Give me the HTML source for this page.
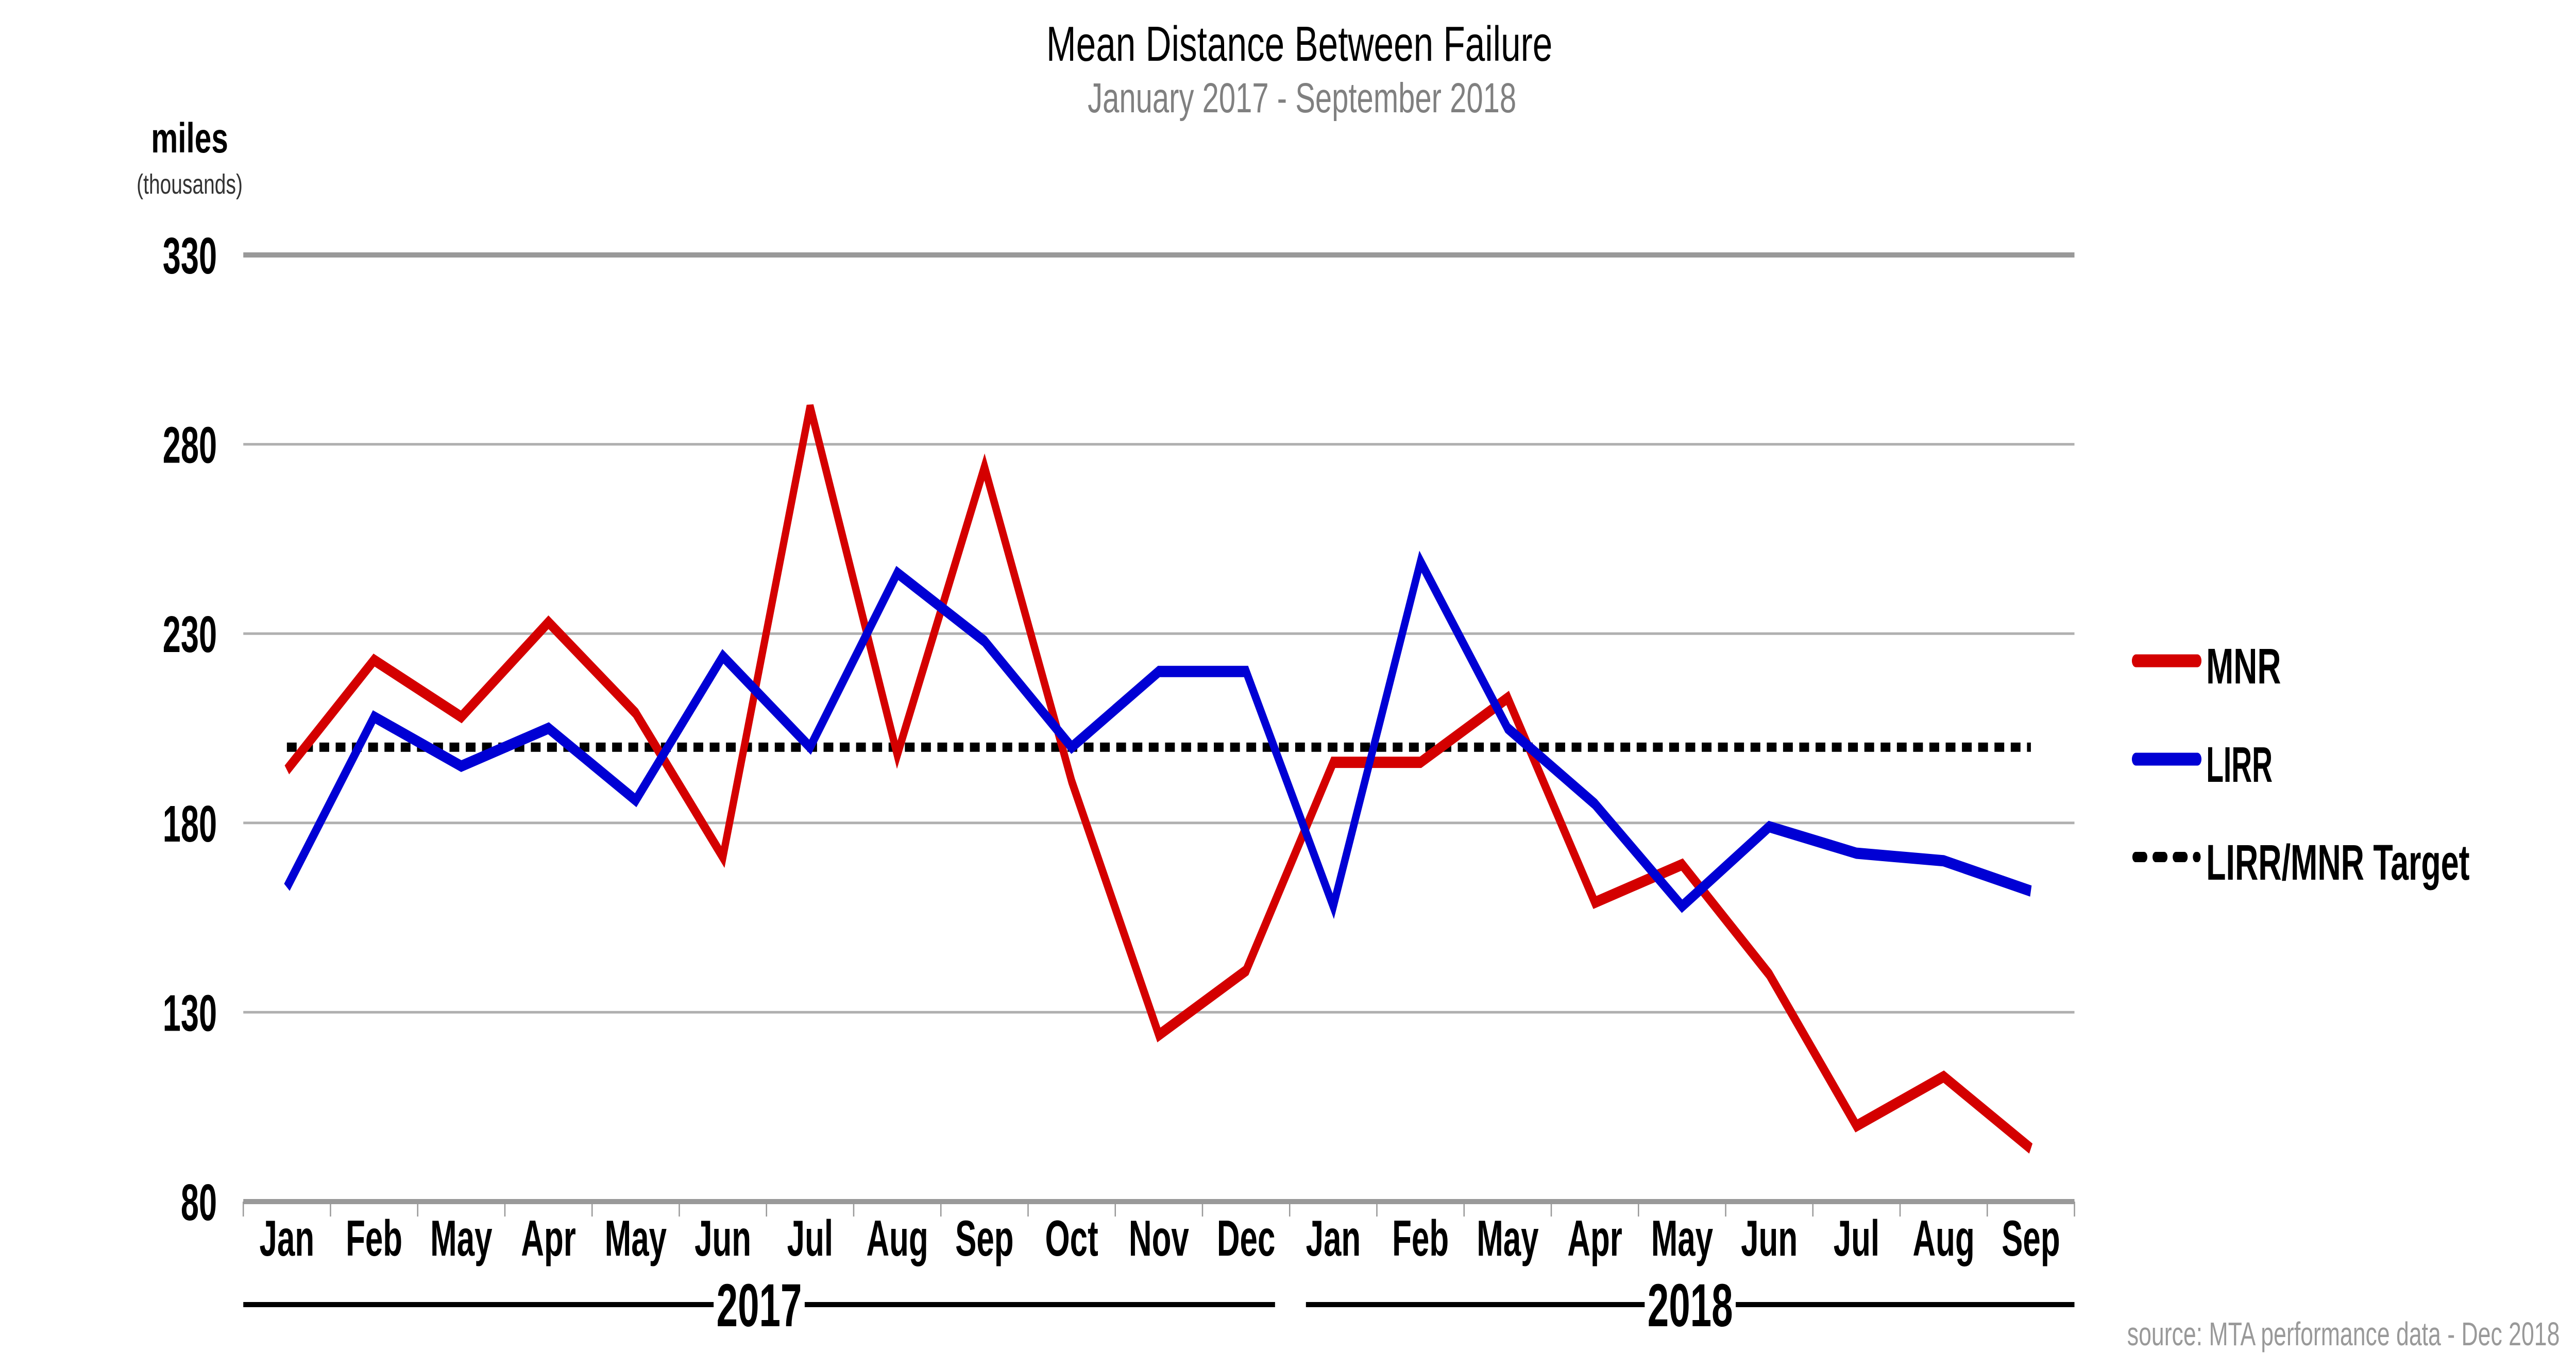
<!DOCTYPE html>
<html><head><meta charset="utf-8"><meta name="viewport" content="width=7920, initial-scale=1"><style>html,body{margin:0;padding:0;background:#fff;width:100vw;height:100vh;overflow:hidden}svg{display:block;width:100vw;height:100vh}text{font-family:"Liberation Sans",sans-serif}</style></head>
<body>
<svg id="chart" viewBox="0 0 7920 2660" preserveAspectRatio="none" xmlns="http://www.w3.org/2000/svg">
<text x="3995" y="118" text-anchor="middle" font-size="96" textLength="1556" lengthAdjust="spacingAndGlyphs" fill="#000">Mean Distance Between Failure</text>
<text x="4003" y="218" text-anchor="middle" font-size="82" textLength="1318" lengthAdjust="spacingAndGlyphs" fill="#808080">January 2017 - September 2018</text>
<text x="583" y="296" text-anchor="middle" font-size="82" font-weight="bold" textLength="237" lengthAdjust="spacingAndGlyphs" fill="#000">miles</text>
<text x="583" y="376" text-anchor="middle" font-size="54" textLength="326" lengthAdjust="spacingAndGlyphs" fill="#333">(thousands)</text>
<g id="grid"></g><g id="series"></g>
<g>
<line x1="6567" y1="1283" x2="6756" y2="1283" stroke="#d40000" stroke-width="25" stroke-linecap="round"/>
<text x="6783" y="1327" font-size="97" font-weight="bold" textLength="230" lengthAdjust="spacingAndGlyphs">MNR</text>
<line x1="6567" y1="1474" x2="6756" y2="1474" stroke="#0000d4" stroke-width="25" stroke-linecap="round"/>
<text x="6783" y="1518" font-size="97" font-weight="bold" textLength="204" lengthAdjust="spacingAndGlyphs">LIRR</text>
<line x1="6566" y1="1664" x2="6756" y2="1664" stroke="#000" stroke-width="20" stroke-linecap="round" stroke-dasharray="26 36"/>
<text x="6783" y="1708" font-size="97" font-weight="bold" textLength="810" lengthAdjust="spacingAndGlyphs">LIRR/MNR Target</text>
</g>
<text x="7870" y="2612" text-anchor="end" font-size="64" textLength="1330" lengthAdjust="spacingAndGlyphs" fill="#999">source: MTA performance data - Dec 2018</text>
</svg>
<script>
const categories = ["Jan","Feb","May","Apr","May","Jun","Jul","Aug","Sep","Oct","Nov","Dec","Jan","Feb","May","Apr","May","Jun","Jul","Aug","Sep"];
const mnrValues = [194,223,208,233,209,171,290,198,274,191,124,141,196,196,213,159,169,140,100,113,94];
const lirrValues = [163,208,195,205,186,224,200,246,228,200,220,220,158,249,205,185,158,179,172,170,162];
const targetValue = 200;
const yTicks = [80,130,180,230,280,330];
const years = [{label:"2017",start:0,end:12},{label:"2018",start:12,end:21}];

const NS="http://www.w3.org/2000/svg";
const L=748,R=6378,T=495,B=2333,YMIN=80,YMAX=330;
const bw=(R-L)/categories.length;
const xC=i=>L+bw*(i+0.5);
const xE=i=>L+bw*i;
const y=v=>B-(v-YMIN)/(YMAX-YMIN)*(B-T);
function mk(tag,attrs,parent){const e=document.createElementNS(NS,tag);for(const k in attrs)e.setAttribute(k,attrs[k]);parent.appendChild(e);return e;}
const grid=document.getElementById('grid'),ser=document.getElementById('series');
yTicks.forEach((v,i)=>{
  const top=v===YMAX, bot=v===YMIN;
  const ln=mk('line',{x1:L,x2:R,y1:y(v),y2:y(v),stroke:(top||bot)?'#999':'#b0b0b0','stroke-width':(top||bot)?10:5},grid);
  
  
  const t=mk('text',{x:667,y:y(v)+36,'text-anchor':'end','font-size':100,'font-weight':'bold'},grid);
  t.textContent=v;
  
  
});
for(let i=0;i<=categories.length;i++){
  const tk=mk('line',{x1:xE(i),x2:xE(i),y1:B,y2:2362,stroke:'#999','stroke-width':4},grid);
  
  
}
categories.forEach((c,i)=>{
  const t=mk('text',{x:xC(i),y:2438,'text-anchor':'middle','font-size':98,'font-weight':'bold'},grid);
  t.textContent=c;
  
  
});
years.forEach(yr=>{
  const x1=xE(yr.start)+(yr.start?50:0), x2=xE(yr.end)-(yr.end<categories.length?45:0), cx=(x1+x2)/2;
  const a=mk('line',{x1:x1,x2:cx-140,y1:2533,y2:2533,stroke:'#000','stroke-width':10},grid);
  
  
  const b=mk('line',{x1:cx+140,x2:x2,y1:2533,y2:2533,stroke:'#000','stroke-width':10},grid);
  
  
  const t=mk('text',{x:cx,y:2575,'text-anchor':'middle','font-size':118,'font-weight':'bold'},grid);
  t.textContent=yr.label;
  
  
});
const tg=mk('line',{x1:xC(0),x2:xC(categories.length-1),y1:y(targetValue),y2:y(targetValue),stroke:'#000','stroke-width':18,'stroke-dasharray':'30 20'},ser);


function series(vals,color,name){
  const p=mk('polyline',{points:vals.map((v,i)=>xC(i)+','+y(v)).join(' '),fill:'none',stroke:color,'stroke-width':22,'stroke-linejoin':'miter','stroke-miterlimit':3},ser);
  
  
}
series(mnrValues,'#d40000','mnr-line');
series(lirrValues,'#0000d4','lirr-line');
</script>
</body></html>
